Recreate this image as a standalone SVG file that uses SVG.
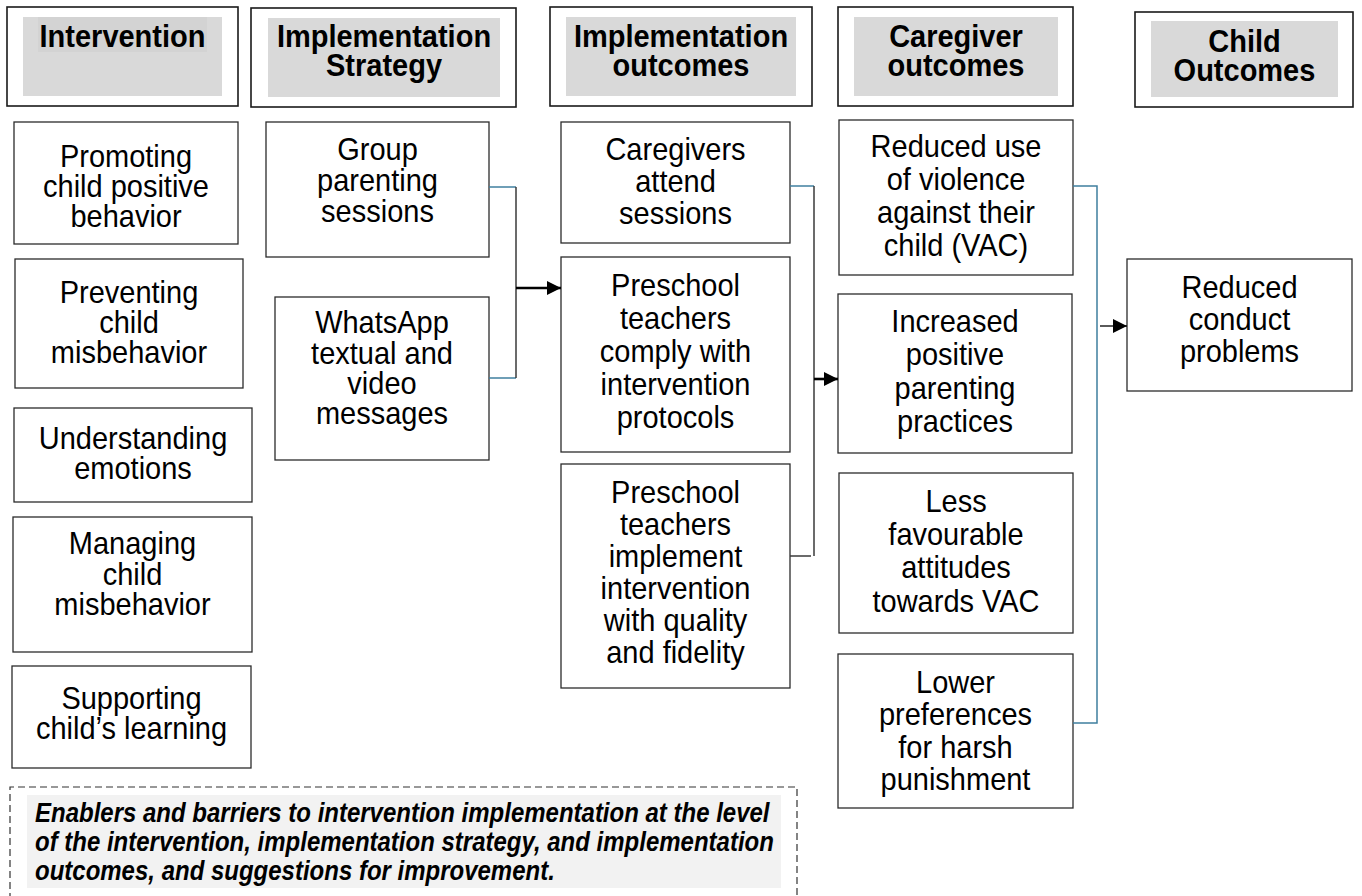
<svg xmlns="http://www.w3.org/2000/svg" width="1362" height="896" viewBox="0 0 1362 896">
  <style>
    .hdr { fill: #ffffff; stroke: #1a1a1a; stroke-width: 1.6; }
    .hdrfill { fill: #d9d9d9; }
    .box { fill: #ffffff; stroke: #2b2b2b; stroke-width: 1.3; }
    .ht { font-family: "Liberation Sans", Arial, sans-serif; font-size: 29px; font-weight: bold; fill: #000; text-anchor: middle; }
    .t { font-family: "Liberation Sans", Arial, sans-serif; font-size: 29px; fill: #000; text-anchor: middle; }
    .note { font-family: "Liberation Sans", Arial, sans-serif; font-size: 24px; font-weight: bold; font-style: italic; fill: #000; }
    .blue { stroke: #3f7f9f; stroke-width: 1.5; fill: none; }
    .dark { stroke: #3a3a3a; stroke-width: 1.5; fill: none; }
    .arrow { stroke: #000; stroke-width: 2.6; fill: none; }
    .arrow-thin { stroke: #000; stroke-width: 1.3; fill: none; }
  </style>
  <defs>
    <marker id="head" viewBox="0 0 14 14" refX="14" refY="7" markerWidth="14" markerHeight="14" markerUnits="userSpaceOnUse" orient="auto">
      <path d="M0,0 L14,7 L0,14 Z" fill="#000"/>
    </marker>
  </defs>

  <rect width="1362" height="896" fill="#ffffff"/>

  <!-- column headers -->
  <g id="hdr-intervention">
    <rect class="hdr" x="7" y="7" width="231" height="99"/>
    <rect class="hdrfill" x="23" y="17" width="199" height="79"/>
    <rect x="38" y="17" width="169" height="35" fill="#d3d3d3"/>
    <text class="ht" transform="translate(122.5,47) scale(1,1.05)"><tspan x="0" y="0">Intervention</tspan></text>
  </g>
  <g id="hdr-strategy">
    <rect class="hdr" x="251" y="8" width="265" height="99"/>
    <rect class="hdrfill" x="268" y="18" width="232" height="79"/>
    <text class="ht" transform="translate(384,47) scale(1,1.05)"><tspan x="0" y="0">Implementation</tspan><tspan x="0" y="27.6">Strategy</tspan></text>
  </g>
  <g id="hdr-impl-outcomes">
    <rect class="hdr" x="550" y="7" width="262" height="99"/>
    <rect class="hdrfill" x="566" y="17" width="230" height="79"/>
    <text class="ht" transform="translate(681,47) scale(1,1.05)"><tspan x="0" y="0">Implementation</tspan><tspan x="0" y="27.6">outcomes</tspan></text>
  </g>
  <g id="hdr-caregiver">
    <rect class="hdr" x="838" y="7" width="235" height="99"/>
    <rect class="hdrfill" x="854" y="17" width="204" height="79"/>
    <text class="ht" transform="translate(956,47) scale(1,1.05)"><tspan x="0" y="0">Caregiver</tspan><tspan x="0" y="27.6">outcomes</tspan></text>
  </g>
  <g id="hdr-child">
    <rect class="hdr" x="1135" y="12" width="218" height="95"/>
    <rect class="hdrfill" x="1151" y="21" width="187" height="76"/>
    <text class="ht" transform="translate(1244.5,52) scale(1,1.05)"><tspan x="0" y="0">Child</tspan><tspan x="0" y="27.6">Outcomes</tspan></text>
  </g>

  <!-- intervention components -->
  <g id="n-promoting">
    <rect class="box" x="14" y="122" width="224" height="122"/>
    <text class="t" transform="translate(126,167) scale(1,1.1)"><tspan x="0" y="0">Promoting</tspan><tspan x="0" y="27.27">child positive</tspan><tspan x="0" y="54.55">behavior</tspan></text>
  </g>
  <g id="n-preventing">
    <rect class="box" x="15" y="259" width="228" height="129"/>
    <text class="t" transform="translate(129,303) scale(1,1.1)"><tspan x="0" y="0">Preventing</tspan><tspan x="0" y="27.27">child</tspan><tspan x="0" y="54.55">misbehavior</tspan></text>
  </g>
  <g id="n-emotions">
    <rect class="box" x="14" y="408" width="238" height="94"/>
    <text class="t" transform="translate(133,449) scale(1,1.1)"><tspan x="0" y="0">Understanding</tspan><tspan x="0" y="27.27">emotions</tspan></text>
  </g>
  <g id="n-managing">
    <rect class="box" x="13" y="517" width="239" height="135"/>
    <text class="t" transform="translate(132.5,554) scale(1,1.1)"><tspan x="0" y="0">Managing</tspan><tspan x="0" y="28.18">child</tspan><tspan x="0" y="55.45">misbehavior</tspan></text>
  </g>
  <g id="n-learning">
    <rect class="box" x="12" y="666" width="239" height="102"/>
    <text class="t" transform="translate(131.5,709) scale(1,1.1)"><tspan x="0" y="0">Supporting</tspan><tspan x="0" y="27.27">child’s learning</tspan></text>
  </g>

  <!-- implementation strategy -->
  <g id="n-group">
    <rect class="box" x="266" y="122" width="223" height="135"/>
    <text class="t" transform="translate(377.5,160) scale(1,1.1)"><tspan x="0" y="0">Group</tspan><tspan x="0" y="28.18">parenting</tspan><tspan x="0" y="56.36">sessions</tspan></text>
  </g>
  <g id="n-whatsapp">
    <rect class="box" x="275" y="297" width="214" height="163"/>
    <text class="t" transform="translate(382,333) scale(1,1.1)"><tspan x="0" y="0">WhatsApp</tspan><tspan x="0" y="28.18">textual and</tspan><tspan x="0" y="55.45">video</tspan><tspan x="0" y="82.73">messages</tspan></text>
  </g>

  <!-- implementation outcomes -->
  <g id="n-attend">
    <rect class="box" x="561" y="122" width="229" height="121"/>
    <text class="t" transform="translate(675.5,160) scale(1,1.1)"><tspan x="0" y="0">Caregivers</tspan><tspan x="0" y="29.09">attend</tspan><tspan x="0" y="58.18">sessions</tspan></text>
  </g>
  <g id="n-comply">
    <rect class="box" x="561" y="257" width="229" height="195"/>
    <text class="t" transform="translate(675.5,296) scale(1,1.1)"><tspan x="0" y="0">Preschool</tspan><tspan x="0" y="30">teachers</tspan><tspan x="0" y="60">comply with</tspan><tspan x="0" y="90">intervention</tspan><tspan x="0" y="120">protocols</tspan></text>
  </g>
  <g id="n-fidelity">
    <rect class="box" x="561" y="464" width="229" height="224"/>
    <text class="t" transform="translate(675.5,503) scale(1,1.1)"><tspan x="0" y="0">Preschool</tspan><tspan x="0" y="29.09">teachers</tspan><tspan x="0" y="58.18">implement</tspan><tspan x="0" y="87.27">intervention</tspan><tspan x="0" y="116.36">with quality</tspan><tspan x="0" y="145.45">and fidelity</tspan></text>
  </g>

  <!-- caregiver outcomes -->
  <g id="n-vac">
    <rect class="box" x="839" y="120" width="234" height="155"/>
    <text class="t" transform="translate(956,157) scale(1,1.1)"><tspan x="0" y="0">Reduced use</tspan><tspan x="0" y="30">of violence</tspan><tspan x="0" y="60">against their</tspan><tspan x="0" y="90">child (VAC)</tspan></text>
  </g>
  <g id="n-positive">
    <rect class="box" x="838" y="294" width="234" height="159"/>
    <text class="t" transform="translate(955,332) scale(1,1.1)"><tspan x="0" y="0">Increased</tspan><tspan x="0" y="30">positive</tspan><tspan x="0" y="60.9">parenting</tspan><tspan x="0" y="90.9">practices</tspan></text>
  </g>
  <g id="n-attitudes">
    <rect class="box" x="839" y="473" width="234" height="160"/>
    <text class="t" transform="translate(956,512) scale(1,1.1)"><tspan x="0" y="0">Less</tspan><tspan x="0" y="30">favourable</tspan><tspan x="0" y="60">attitudes</tspan><tspan x="0" y="90.9">towards VAC</tspan></text>
  </g>
  <g id="n-harsh">
    <rect class="box" x="838" y="654" width="235" height="154"/>
    <text class="t" transform="translate(955.5,693) scale(1,1.1)"><tspan x="0" y="0">Lower</tspan><tspan x="0" y="29.09">preferences</tspan><tspan x="0" y="59.09">for harsh</tspan><tspan x="0" y="88.18">punishment</tspan></text>
  </g>

  <!-- child outcome -->
  <g id="n-conduct">
    <rect class="box" x="1127" y="259" width="225" height="132"/>
    <text class="t" transform="translate(1239.5,298) scale(1,1.1)"><tspan x="0" y="0">Reduced</tspan><tspan x="0" y="29.09">conduct</tspan><tspan x="0" y="58.18">problems</tspan></text>
  </g>

  <!-- connectors: brackets gathering each column, then arrows to the next -->
  <g id="connectors">
    <path class="blue" d="M489,187 H516"/>
    <path class="blue" d="M489,378 H516"/>
    <path class="dark" d="M516,187 V378"/>
    <path class="arrow" d="M516,288 H561" marker-end="url(#head)"/>

    <path class="blue" d="M790,186 H814"/>
    <path class="dark" d="M814,186 V556"/>
    <path class="dark" d="M790,556 H811"/>
    <path class="arrow" d="M814,379 H838" marker-end="url(#head)"/>

    <path class="blue" d="M1073,186 H1097 V723 H1073"/>
    <path class="arrow-thin" d="M1100,326 H1127" marker-end="url(#head)"/>
  </g>

  <!-- dashed note about enablers and barriers -->
  <g id="n-note">
    <path d="M10,900 V787 H797 V900" fill="none" stroke="#333" stroke-width="1.2" stroke-dasharray="7 4"/>
    <rect x="27" y="795" width="754" height="93" fill="#f2f2f2"/>
    <text class="note" transform="translate(35,822) scale(1,1.12)"><tspan x="0" y="0">Enablers and barriers to intervention implementation at the level</tspan><tspan x="0" y="25.9">of the intervention, implementation strategy, and implementation</tspan><tspan x="0" y="51.8">outcomes, and suggestions for improvement.</tspan></text>
  </g>
</svg>
